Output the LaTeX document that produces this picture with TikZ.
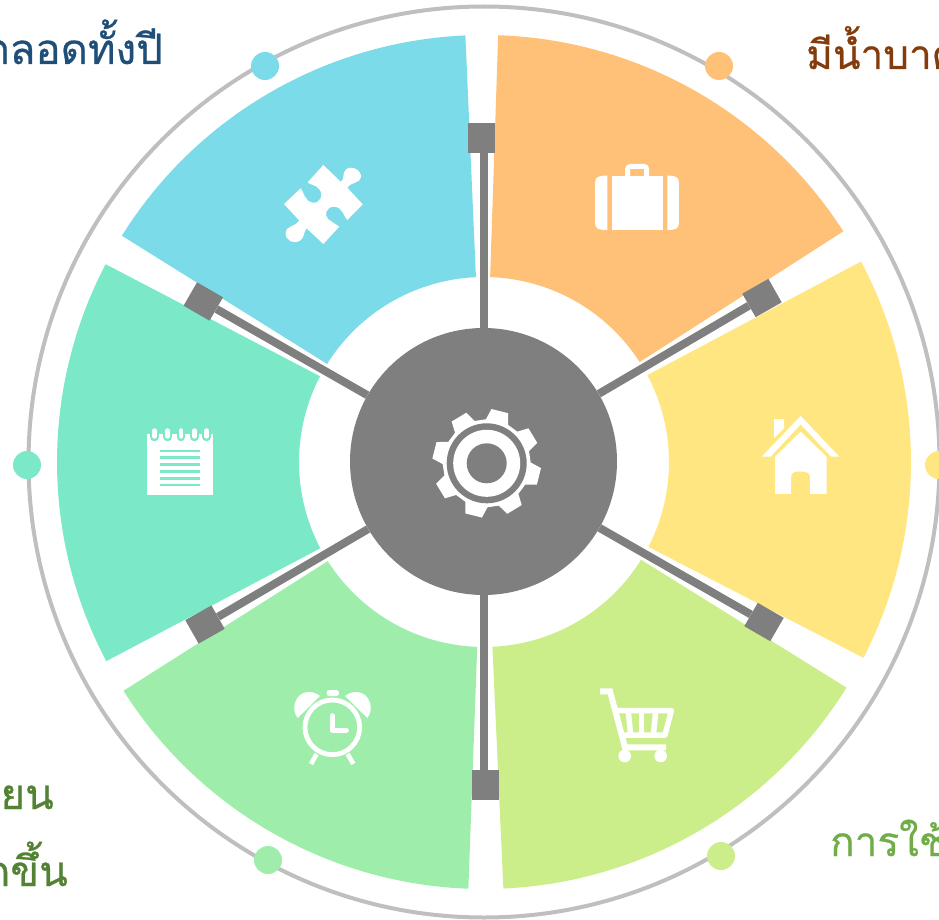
\documentclass[tikz,border=0pt]{standalone}
\usepackage{fontspec}
\newfontfamily\thaifont[Script=Thai,FakeBold=0.6]{Loma}
\definecolor{hubgray}{HTML}{7F7F7F}
\definecolor{ringgray}{HTML}{BFBFBF}
\definecolor{ccyan}{HTML}{7BDBE9}
\definecolor{corange}{HTML}{FFC078}
\definecolor{cyellow}{HTML}{FFE680}
\definecolor{clime}{HTML}{CBEE8A}
\definecolor{cgreen}{HTML}{9FEDAB}
\definecolor{cmint}{HTML}{7BE9C8}
\definecolor{tblue}{HTML}{1F4E79}
\definecolor{tbrown}{HTML}{843C0C}
\definecolor{tdgreen}{HTML}{548235}
\definecolor{tgreen}{HTML}{70AD47}
\tikzset{
  dotnode/.style={circle,inner sep=0pt,minimum size=28pt},
  linkbox/.style={rectangle,fill=hubgray,inner sep=0pt,minimum width=27pt,minimum height=30pt},
  spoke/.style={draw=hubgray,line width=8pt},
  label/.style={font=\thaifont\fontsize{42}{48}\selectfont,inner sep=0pt},
  labelR/.style={font=\thaifont\fontsize{40.5}{46}\selectfont,inner sep=0pt},
  zoomA/.style={x=0.3333pt,y=-0.3333pt},
}
\newcommand{\sectorfill}[3]{%
  \begin{scope}[shift={(484,462)},y=1pt]
    \fill[#1] (#2:427) arc[start angle=#2,end angle=#3,radius=427]
      -- (#3:185) arc[start angle=#3,end angle=#2,radius=185] -- cycle;
  \end{scope}}
\begin{document}
\begin{tikzpicture}[x=1pt,y=-1pt]
\useasboundingbox (0,0) rectangle (939,920);
\clip (0,0) rectangle (939,920);
% ring
\draw[ringgray,line width=4pt] (484,462) circle[radius=455.5];
% sectors
\sectorfill{ccyan}{148}{92.5}
\sectorfill{corange}{88.1}{32.7}
\sectorfill{cyellow}{28}{-27.3}
\sectorfill{clime}{-31.9}{-87.4}
\sectorfill{cgreen}{-92.1}{-147.6}
\sectorfill{cmint}{-152.2}{-207.6}
% dots
\node[dotnode,fill=ccyan] (d1) at (265,66) {};
\node[dotnode,fill=corange] (d2) at (719,66) {};
\node[dotnode,fill=cyellow] (d3) at (939,465) {};
\node[dotnode,fill=clime] (d4) at (721,856) {};
\node[dotnode,fill=cgreen] (d5) at (268,860) {};
\node[dotnode,fill=cmint] (d6) at (27,465) {};
% hub and connectors
\node[circle,fill=hubgray,inner sep=0pt,minimum size=267pt] (hub) at (483.5,461.5) {};
\node[linkbox] (b1) at (481.5,138.5) {};
\node[linkbox,rotate=-60.5] (b2) at (762,298) {};
\node[linkbox,rotate=60] (b3) at (764,622) {};
\node[linkbox] (b4) at (485,784.5) {};
\node[linkbox,rotate=-60.5] (b5) at (205,624.5) {};
\node[linkbox,rotate=60] (b6) at (203.3,301.5) {};
\draw[spoke] (hub) -- (hub |- b1);
\draw[spoke] (hub) -- (b2);
\draw[spoke] (hub) -- (b3);
\draw[spoke] (hub) -- (hub |- b4);
\draw[spoke] (hub) -- (b5);
\draw[spoke] (hub) -- (b6);
% gear
\begin{scope}[shift={(486.7,463.3)},y=1pt]
  \fill[white] (91:44) \foreach \a in {76,31,-14,-59,-104,-149,-194,-239}{
      -- ({\a+15}:44) -- ({\a+9}:54.5) -- ({\a-9}:54.5) -- ({\a-15}:44)} -- cycle;
  \fill[hubgray] (0,0) circle[radius=40];
  \fill[white] (0,0) circle[radius=33.5];
  \fill[hubgray] (0,0) circle[radius=20];
\end{scope}
% puzzle
\begin{scope}[shift={(270,150)},zoomA]
  \fill[white] (160,45) -- (212,95) .. controls (225,90) and (215,70) .. (228,58)
    .. controls (245,45) and (275,60) .. (273,82) .. controls (270,100) and (245,95) .. (232,113)
    -- (278,163) -- (232,210) .. controls (220,200) and (220,172) .. (192,170)
    .. controls (170,170) and (160,195) .. (175,208) -- (208,230)
    -- (160,282) -- (110,235) .. controls (100,245) and (105,262) .. (90,272)
    .. controls (70,285) and (45,270) .. (47,248) .. controls (50,225) and (78,230) .. (88,212)
    -- (42,162) -- (92,115) .. controls (102,125) and (102,155) .. (130,158)
    .. controls (150,160) and (162,135) .. (148,118) .. controls (140,105) and (120,105) .. (113,97) -- cycle;
\end{scope}
% briefcase
\begin{scope}[shift={(580,150)},zoomA]
  \fill[white] (82,77) .. controls (55,77) and (45,80) .. (45,100) -- (45,217)
     .. controls (45,237) and (55,240) .. (82,240) -- cycle;
  \fill[white] (95,77) rectangle (248,240);
  \fill[white] (262,77) .. controls (287,77) and (297,80) .. (297,100) -- (297,217)
     .. controls (297,237) and (287,240) .. (262,240) -- cycle;
  \draw[white,line width=5pt,rounded corners=3pt] (143,80) -- (143,49) -- (200,49) -- (200,80);
\end{scope}
% house
\begin{scope}[shift={(750,405)},zoomA]
  \fill[white] (72,42) -- (102,42) -- (102,70) -- (72,100) -- cycle;
  \fill[white] (35,155) -- (152,33) -- (268,155) -- (243,155) -- (152,58) -- (62,155) -- cycle;
  \fill[white] (75,155) -- (152,80) -- (230,155) -- (230,267) -- (180,267) -- (180,218)
     .. controls (180,206) and (172,200) .. (165,200) -- (140,200)
     .. controls (130,200) and (123,206) .. (123,218) -- (123,267) -- (75,267) -- cycle;
\end{scope}
% cart
\begin{scope}[shift={(590,680)},zoomA]
  \draw[white,line width=6pt,line join=miter] (30,34) -- (60,34) -- (105,202) -- (228,202);
  \draw[white,line width=5.5pt,line join=round] (78,92) -- (244,92) -- (225,165) -- (97,165);
  \draw[white,line width=5.5pt] (115,95) -- (122,165);
  \draw[white,line width=5.5pt] (155,95) -- (155,165);
  \draw[white,line width=5.5pt] (197,95) -- (190,165);
  \fill[white] (104,228) circle[radius=19];
  \fill[white] (212,228) circle[radius=19];
\end{scope}
% alarm clock
\begin{scope}[shift={(285,680)},zoomA]
  \draw[white,line width=4.8pt] (142,142) circle[radius=82];
  \fill[white,rounded corners=2.5pt] (125,30) rectangle (162,48);
  \fill[white] (105,48) .. controls (80,28) and (42,32) .. (30,68)
     .. controls (25,85) and (28,100) .. (38,114) -- cycle;
  \fill[white] (180,48) .. controls (205,28) and (243,32) .. (255,68)
     .. controls (260,85) and (257,100) .. (247,114) -- cycle;
  \draw[white,line width=5pt,line cap=round,line join=round] (142,107) -- (142,150) -- (184,150);
  \draw[white,line width=4.6pt] (95,222) -- (78,252);
  \draw[white,line width=4.6pt] (188,222) -- (205,252);
\end{scope}
% notepad
\begin{scope}[shift={(135,415)},zoomA]
  \fill[white] (37,58) rectangle (235,240);
  \foreach \p in {58,98,138,178,215}{
    \draw[cmint,line width=8.5pt,line cap=round] (\p,48) -- (\p,66);
    \draw[white,line width=4.6pt,line cap=round] (\p,47) -- (\p,64);
  }
  \foreach \q in {108,128,149,169,190,210}{
    \draw[cmint,line width=2.6pt] (76,\q) -- (195,\q);
  }
\end{scope}
% texts
\node[label,text=tblue,anchor=base east] (t1) at (163,64) {ตลอดทั้งปี};
\node[labelR,text=tbrown,anchor=base west] (t2) at (806,69) {มีน้ำบาด};
\node[labelR,text=tgreen,anchor=base west] (t3) at (830,856) {การใช้};
\node[label,text=tdgreen,anchor=base east] (t4) at (54,809) {ยน};
\node[label,text=tdgreen,anchor=base east] (t5) at (68,886) {กขึ้น};
\end{tikzpicture}
\end{document}
